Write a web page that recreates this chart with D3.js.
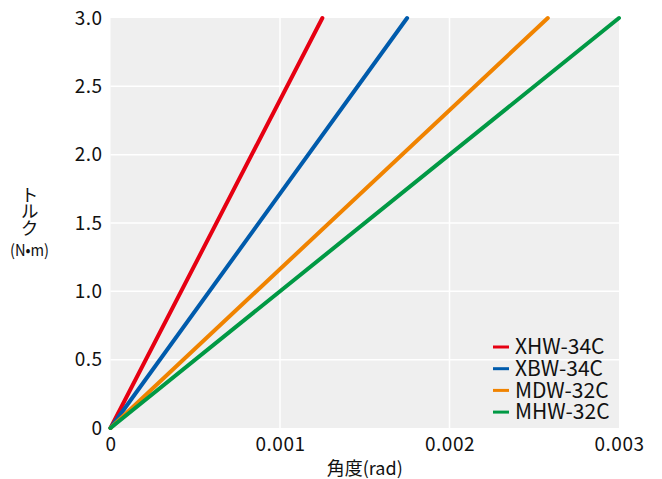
<!DOCTYPE html>
<html>
<head>
<meta charset="utf-8">
<script src="https://cdn.jsdelivr.net/npm/d3@7"></script>
<style>
  body { margin: 0; background: #fff; }
  svg text { font-family: "Noto Sans CJK JP", "Noto Sans", sans-serif; fill: #111; }
</style>
</head>
<body>
<svg id="chart"></svg>
<script>
"use strict";

// each model is a straight line from the origin up to 3.0 N·m
const models = ["XHW-34C", "XBW-34C", "MDW-32C", "MHW-32C"];
const colors = ["#e60012", "#005bac", "#f08300", "#009944"];
const endAngle = [0.00125, 0.00175, 0.00258, 0.003];
const endTorque = [3.0, 3.0, 3.0, 3.0];

const xTicks = [0, 0.001, 0.002, 0.003];
const xTickLabels = ["0", "0.001", "0.002", "0.003"];
const yTicks = [0, 0.5, 1.0, 1.5, 2.0, 2.5, 3.0];
const yTickLabels = ["0", "0.5", "1.0", "1.5", "2.0", "2.5", "3.0"];

const width = 662, height = 479;
const margin = {top: 18, right: 43, bottom: 51, left: 110.5};

const svg = d3.select("#chart")
    .attr("width", width)
    .attr("height", height);

const x = d3.scaleLinear().domain([0, 0.003]).range([margin.left, width - margin.right]);
const y = d3.scaleLinear().domain([0, 3.0]).range([height - margin.bottom, margin.top]);

// plot background
svg.append("rect")
    .attr("x", x(0))
    .attr("y", y(3))
    .attr("width", x(0.003) - x(0))
    .attr("height", y(0) - y(3))
    .attr("fill", "#efefef");

// grid
svg.append("g").selectAll("line")
    .data(yTicks.slice(1, -1))
    .enter().append("line")
    .attr("x1", x(0)).attr("x2", x(0.003))
    .attr("y1", d => y(d)).attr("y2", d => y(d))
    .attr("stroke", "#fff").attr("stroke-width", 1.5);

svg.append("g").selectAll("line")
    .data(xTicks.slice(1, -1))
    .enter().append("line")
    .attr("x1", d => x(d)).attr("x2", d => x(d))
    .attr("y1", y(0)).attr("y2", y(3))
    .attr("stroke", "#fff").attr("stroke-width", 1.5);

// axes (labels only, no domain or ticks)
const yAxis = svg.append("g")
    .attr("transform", `translate(${x(0)},0)`)
    .call(d3.axisLeft(y).tickValues(yTicks).tickFormat((d, i) => yTickLabels[i]).tickSize(0).tickPadding(8));
const xAxis = svg.append("g")
    .attr("transform", `translate(0,${y(0)})`)
    .call(d3.axisBottom(x).tickValues(xTicks).tickFormat((d, i) => xTickLabels[i]).tickSize(0).tickPadding(10));
[xAxis, yAxis].forEach(ax => {
    ax.select(".domain").remove();
    ax.selectAll("text")
        .attr("font-size", 19)
        .attr("letter-spacing", "0.5px")
        .attr("fill", "#111")
        .style("font-family", "'Noto Sans CJK JP', sans-serif");
});

// model lines
const line = d3.line().x(d => x(d[0])).y(d => y(d[1]));
svg.append("g").selectAll("path")
    .data(models)
    .enter().append("path")
    .attr("d", (d, i) => line([[0, 0], [endAngle[i], endTorque[i]]]))
    .attr("fill", "none")
    .attr("stroke", (d, i) => colors[i])
    .attr("stroke-width", 4)
    .attr("stroke-linecap", "round");

// axis titles
svg.append("text")
    .attr("x", (x(0) + x(0.003)) / 2)
    .attr("y", 475)
    .attr("text-anchor", "middle")
    .attr("font-size", 18)
    .text("角度(rad)");

// vertical katakana title, then the unit underneath
svg.append("text")
    .attr("x", 29.5)
    .attr("y", 186)
    .attr("font-size", 18)
    .attr("letter-spacing", "-1.5px")
    .style("writing-mode", "vertical-rl")
    .style("text-orientation", "upright")
    .text("トルク");
svg.append("text")
    .attr("x", 29.5)
    .attr("y", 256)
    .attr("text-anchor", "middle")
    .attr("font-size", 16)
    .attr("textLength", 39)
    .attr("lengthAdjust", "spacingAndGlyphs")
    .text("(N•m)");

// legend: swatches, then one text block with a line per model
const rowGap = 21.7;
const legend = svg.append("g")
    .attr("transform", "translate(493,347)");
legend.selectAll("line")
    .data(models)
    .enter().append("line")
    .attr("x1", 0).attr("x2", 16)
    .attr("y1", (d, i) => i * rowGap).attr("y2", (d, i) => i * rowGap)
    .attr("stroke", (d, i) => colors[i])
    .attr("stroke-width", 3);
legend.append("text")
    .attr("font-size", 21)
    .selectAll("tspan")
    .data(models)
    .enter().append("tspan")
    .attr("x", 22)
    .attr("y", (d, i) => i * rowGap)
    .attr("dy", "0.35em")
    .text(d => d);
</script>
</body>
</html>
